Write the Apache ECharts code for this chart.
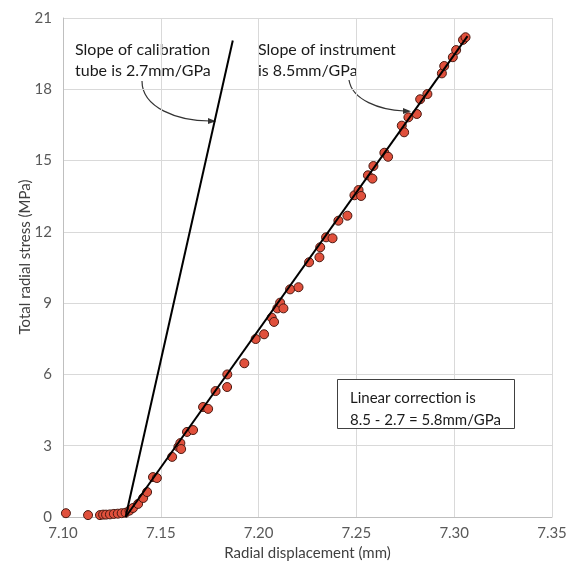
<!DOCTYPE html>
<html>
<head>
<meta charset="utf-8">
<script src="https://cdn.jsdelivr.net/npm/echarts@6/dist/echarts.min.js"></script>
<style>html,body{margin:0;padding:0;background:#fff;}#c{width:579px;height:564px;}</style>
</head>
<body>
<div id="c"></div>
<script>
// Measured data: radial displacement (mm) and total radial stress (MPa)
const dispX = [7.1015,7.1128,7.1189,7.1205,7.1220,7.1240,7.1260,7.1280,7.1300,7.1320,
  7.1340,7.1358,7.1384,7.1410,7.1430,7.1460,7.1480,7.1558,7.1590,7.1600,
  7.1604,7.1634,7.1665,7.1716,7.1742,7.1780,7.1839,7.1840,7.1927,7.1985,
  7.2028,7.2067,7.2079,7.2096,7.2110,7.2127,7.2161,7.2204,7.2258,7.2311,
  7.2315,7.2345,7.2378,7.2408,7.2454,7.2490,7.2511,7.2524,7.2559,7.2582,
  7.2587,7.2643,7.2662,7.2732,7.2744,7.2766,7.2809,7.2826,7.2863,7.2937,
  7.2949,7.2993,7.3010,7.3045,7.3058];
const stressY = [0.16,0.08,0.08,0.10,0.10,0.11,0.13,0.14,0.16,0.18,
  0.27,0.38,0.55,0.80,1.05,1.68,1.64,2.53,2.95,3.11,
  2.86,3.58,3.66,4.63,4.55,5.30,5.47,6.00,6.47,7.49,
  7.69,8.39,8.21,8.78,9.02,8.78,9.58,9.67,10.72,10.93,
  11.35,11.77,11.73,12.47,12.68,13.54,13.76,13.51,14.38,14.24,
  14.77,15.33,15.16,16.47,16.19,16.82,16.96,17.58,17.80,18.67,
  18.98,19.35,19.65,20.08,20.19];
// Slope lines (start and end points)
const calibLineX = [7.132, 7.1868];
const calibLineY = [0, 20.05];
const instrLineX = [7.132, 7.3068];
const instrLineY = [0, 20.24];
// Axis ticks
const xTicks = [7.10, 7.15, 7.20, 7.25, 7.30, 7.35];
const yTicks = [0, 3, 6, 9, 12, 15, 18, 21];

const FONT = 'Lato';
const chart = echarts.init(document.getElementById('c'));
const pts = dispX.map((x, i) => [x, stressY[i]]);
const calib = calibLineX.map((x, i) => [x, calibLineY[i]]);
const instr = instrLineX.map((x, i) => [x, instrLineY[i]]);

chart.setOption({
  animation: false,
  backgroundColor: '#fff',
  grid: {left: 63, right: 27, top: 18, bottom: 47, containLabel: false, outerBoundsMode: 'none'},
  xAxis: {
    type: 'value', min: xTicks[0], max: xTicks[xTicks.length - 1], interval: 0.05,
    name: 'Radial displacement (mm)', nameLocation: 'middle', nameGap: 28,
    nameTextStyle: {fontFamily: FONT, fontSize: 15, color: '#404040'},
    axisLine: {show: true, lineStyle: {color: '#bfbfbf'}},
    axisTick: {show: false},
    axisLabel: {fontFamily: FONT, fontSize: 15, color: '#595959', margin: 9,
      formatter: v => v.toFixed(2)},
    splitLine: {show: true, lineStyle: {color: '#d9d9d9'}}
  },
  yAxis: {
    type: 'value', min: yTicks[0], max: yTicks[yTicks.length - 1], interval: 3,
    axisLine: {show: true, lineStyle: {color: '#bfbfbf'}},
    axisTick: {show: false},
    axisLabel: {fontFamily: FONT, fontSize: 15, color: '#595959', margin: 11},
    splitLine: {show: true, lineStyle: {color: '#d9d9d9'}}
  },
  series: [
    {type: 'scatter', data: pts, symbolSize: 9, z: 3,
      itemStyle: {color: '#e0503c', borderColor: '#4a1a12', borderWidth: 1, opacity: 1}},
    {type: 'line', data: calib, showSymbol: false, z: 4,
      lineStyle: {color: '#000', width: 2}},
    {type: 'line', data: instr, showSymbol: false, z: 4,
      lineStyle: {color: '#000', width: 2}}
  ],
  graphic: [
    {type: 'text', x: 25, y: 257, rotation: Math.PI / 2,
      style: {text: 'Total radial stress (MPa)', font: '15px ' + FONT, fill: '#404040',
        align: 'center', verticalAlign: 'middle'}},
    {type: 'text', left: 75, top: 39, style: {text: 'Slope of calibration\ntube is 2.7mm/GPa',
      font: '16px ' + FONT, fill: '#1a1a1a', lineHeight: 21}},
    {type: 'text', left: 258, top: 39, style: {text: 'Slope of instrument\nis 8.5mm/GPa',
      font: '16px ' + FONT, fill: '#1a1a1a', lineHeight: 21}},
    {type: 'bezierCurve', shape: {x1: 142, y1: 81, cpx1: 142, cpy1: 108, cpx2: 178, cpy2: 121, x2: 210, y2: 121},
      style: {stroke: '#333', lineWidth: 1.2, fill: null}},
    {type: 'polygon', shape: {points: [[216, 121.3], [208, 118], [208, 124]]}, style: {fill: '#333'}},
    {type: 'bezierCurve', shape: {x1: 349, y1: 80, cpx1: 352, cpy1: 100, cpx2: 380, cpy2: 110, x2: 404, y2: 111},
      style: {stroke: '#333', lineWidth: 1.2, fill: null}},
    {type: 'polygon', shape: {points: [[411, 111.3], [403, 108], [403, 114]]}, style: {fill: '#333'}},
    {type: 'rect', shape: {x: 337.5, y: 379.5, width: 177, height: 49},
      style: {fill: '#fff', stroke: '#404040', lineWidth: 1}, z: 10},
    {type: 'text', left: 350, top: 387, z: 11, style: {text: 'Linear correction is\n8.5 - 2.7 = 5.8mm/GPa',
      font: '15px ' + FONT, fill: '#1a1a1a', lineHeight: 22}}
  ]
});
</script>
</body>
</html>
